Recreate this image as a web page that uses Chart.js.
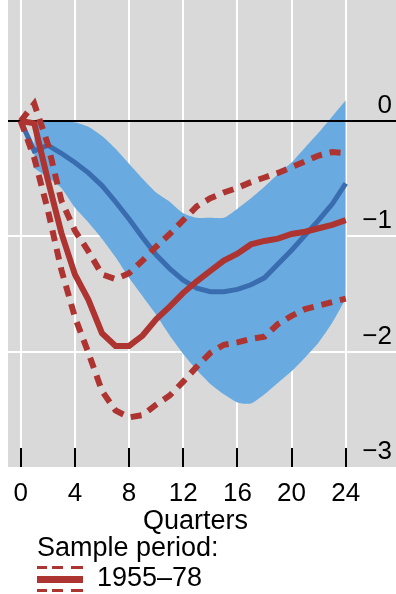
<!DOCTYPE html>
<html>
<head>
<meta charset="utf-8">
<script src="https://cdn.jsdelivr.net/npm/chart.js@4"></script>
<style>
  body { margin: 0; background: #fff; font-family: 'Liberation Sans', Arial, sans-serif; }
  #wrap { position: relative; width: 396px; height: 594px; }
  canvas { position: absolute; left: 0; top: 0; }
  .txt { position: absolute; font-size: 27px; line-height: 27px; color: #000; white-space: nowrap; }
  .bar { position: absolute; background: #ad3430; }
</style>
</head>
<body>
<div id="wrap">
  <canvas id="chart" width="396" height="594"></canvas>
  <div class="txt" style="left:143px; top:507px;">Quarters</div>
  <div class="txt" style="left:37px; top:534px;">Sample period:</div>
  <div class="bar" style="left:37px; top:566px; width:10px; height:3px;"></div>
  <div class="bar" style="left:52px; top:566px; width:11px; height:3px;"></div>
  <div class="bar" style="left:71px; top:566px; width:12px; height:3px;"></div>
  <div class="bar" style="left:37px; top:576px; width:46px; height:7px;"></div>
  <div class="bar" style="left:37px; top:589px; width:10px; height:3px;"></div>
  <div class="bar" style="left:52px; top:589px; width:11px; height:3px;"></div>
  <div class="bar" style="left:71px; top:589px; width:12px; height:3px;"></div>
  <div class="txt" style="left:97px; top:564px;">1955–78</div>
</div>
<script>
// values, one per quarter (0..24)
const quarters = [0, 1, 2, 3, 4, 5, 6, 7, 8, 9, 10, 11, 12, 13, 14, 15, 16, 17, 18, 19, 20, 21, 22, 23, 24];
const blueLine = [0, -0.26, -0.21, -0.28, -0.36, -0.45, -0.56, -0.70, -0.85, -1.01, -1.16, -1.28, -1.38, -1.45, -1.48, -1.48, -1.46, -1.42, -1.36, -1.24, -1.12, -0.99, -0.86, -0.72, -0.54];
const bandUpper = [null, 0, 0, 0, -0.01, -0.05, -0.13, -0.24, -0.37, -0.50, -0.62, -0.70, -0.80, -0.84, -0.84, -0.84, -0.76, -0.67, -0.57, -0.46, -0.36, -0.23, -0.10, 0.04, 0.18];
const bandLower = [null, -0.41, -0.49, -0.58, -0.75, -0.88, -1.02, -1.18, -1.36, -1.52, -1.68, -1.86, -2.02, -2.16, -2.28, -2.37, -2.44, -2.45, -2.37, -2.27, -2.17, -2.05, -1.92, -1.75, -1.54];
const redSolid = [0, -0.02, -0.51, -0.97, -1.33, -1.55, -1.84, -1.95, -1.95, -1.86, -1.72, -1.61, -1.49, -1.39, -1.30, -1.21, -1.15, -1.07, -1.04, -1.02, -0.98, -0.96, -0.93, -0.90, -0.86];
const redUpper = [0, 0.15, -0.20, -0.69, -0.95, -1.13, -1.33, -1.37, -1.32, -1.21, -1.09, -0.98, -0.86, -0.74, -0.67, -0.62, -0.58, -0.53, -0.49, -0.45, -0.40, -0.35, -0.30, -0.27, -0.28];
const redLower = [0, -0.32, -0.77, -1.29, -1.70, -2.01, -2.34, -2.51, -2.57, -2.55, -2.46, -2.38, -2.26, -2.13, -2.01, -1.94, -1.92, -1.89, -1.87, -1.76, -1.69, -1.63, -1.60, -1.57, -1.54];
const xTicks = [0, 4, 8, 12, 16, 20, 24];
const yTicks = [0, -1, -2, -3];
const yLabels = ['0', '\u22121', '\u22122', '\u22123'];

const RED = '#ad3430';
const BLUE = '#3a6cb0';
const BAND = '#69abe0';
const FONT = "'Liberation Sans', Arial, sans-serif";

function pts(arr) {
  return quarters.map((q, i) => ({ x: q, y: arr[i] })).filter(p => p.y !== null);
}

const decor = {
  id: 'decor',
  beforeDraw(chart) {
    const { ctx, chartArea: a } = chart;
    ctx.save();
    ctx.fillStyle = '#d9d9d9';
    ctx.fillRect(a.left, a.top, a.right - a.left, a.bottom - a.top);
    ctx.restore();
  },
  afterDatasetDraw(chart, args) {
    // zero line sits on top of the band but under the lines
    if (args.index !== 5) return;
    const { ctx, chartArea: a } = chart;
    const y = Math.round(chart.scales.y.getPixelForValue(0));
    ctx.save();
    ctx.strokeStyle = '#000';
    ctx.lineWidth = 2;
    ctx.beginPath();
    ctx.moveTo(a.left, y);
    ctx.lineTo(a.right, y);
    ctx.stroke();
    ctx.restore();
  },
  afterDraw(chart) {
    const { ctx, chartArea: a } = chart;
    const xs = chart.scales.x, ys = chart.scales.y;
    ctx.save();
    ctx.strokeStyle = '#000';
    ctx.lineWidth = 2;
    xTicks.forEach(v => {
      const x = Math.round(xs.getPixelForValue(v));
      ctx.beginPath();
      ctx.moveTo(x, a.bottom - 19);
      ctx.lineTo(x, a.bottom);
      ctx.stroke();
    });
    ctx.fillStyle = '#000';
    ctx.font = '26px ' + FONT;
    ctx.textAlign = 'right';
    ctx.textBaseline = 'alphabetic';
    yTicks.forEach((v, i) => {
      ctx.fillText(yLabels[i], 392, ys.getPixelForValue(v) - 8);
    });
    ctx.restore();
  }
};

new Chart(document.getElementById('chart'), {
  type: 'line',
  data: {
    datasets: [
      { data: pts(redSolid), borderColor: RED, borderWidth: 6, pointRadius: 0, order: 1 },
      { data: pts(redUpper), borderColor: RED, borderWidth: 6, borderDash: [11, 8], borderCapStyle: 'butt', pointRadius: 0, order: 2 },
      { data: pts(redLower), borderColor: RED, borderWidth: 6, borderDash: [11, 8], borderCapStyle: 'butt', pointRadius: 0, order: 2 },
      { data: pts(blueLine), borderColor: BLUE, borderWidth: 5, pointRadius: 0, order: 3 },
      { data: pts(bandLower), borderWidth: 0, borderColor: 'rgba(0,0,0,0)', pointRadius: 0, order: 5, tension: 0.2 },
      { data: pts(bandUpper), borderWidth: 0, borderColor: 'rgba(0,0,0,0)', backgroundColor: BAND, fill: '-1', pointRadius: 0, order: 4, tension: 0.2 }
    ]
  },
  options: {
    responsive: false,
    animation: false,
    events: [],
    layout: { padding: { left: 8, top: 0, right: 0, bottom: 0 } },
    plugins: { legend: { display: false }, tooltip: { enabled: false } },
    scales: {
      x: {
        type: 'linear',
        min: -0.938,
        max: 27.71,
        afterBuildTicks: s => { s.ticks = xTicks.map(v => ({ value: v })); },
        afterFit: s => { s.height = 127; },
        border: { display: false },
        grid: { color: '#ffffff', lineWidth: 2, drawTicks: false },
        ticks: { color: '#000', padding: 11, font: { size: 26, family: FONT }, maxRotation: 0, autoSkip: false }
      },
      y: {
        type: 'linear',
        position: 'right',
        min: -3,
        max: 1.049,
        afterBuildTicks: s => { s.ticks = yTicks.map(v => ({ value: v })); },
        afterFit: s => { s.width = 0; },
        border: { display: false },
        grid: {
          color: c => (c.tick && (c.tick.value === -1 || c.tick.value === -2)) ? '#ffffff' : 'rgba(0,0,0,0)',
          lineWidth: 2,
          drawTicks: false
        },
        ticks: { display: false }
      }
    }
  },
  plugins: [decor]
});
</script>
</body>
</html>
